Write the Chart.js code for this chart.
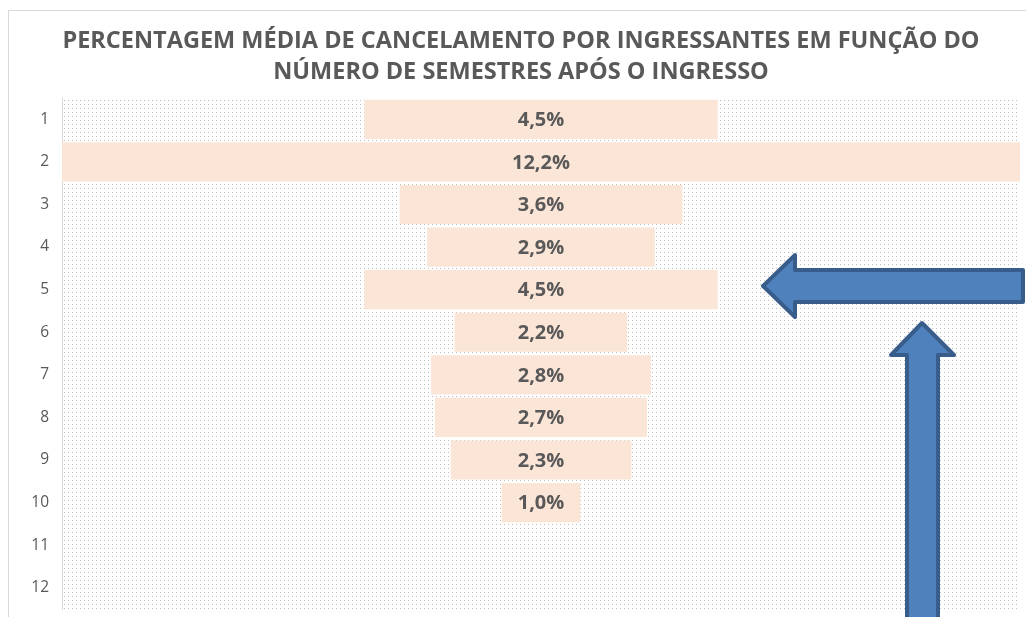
<!DOCTYPE html>
<html>
<head>
<meta charset="utf-8">
<script src="https://cdn.jsdelivr.net/npm/chart.js@4"></script>
<style>
  html, body { margin: 0; padding: 0; background: #fff; overflow: hidden; }
  #wrap { position: relative; width: 1026px; height: 617px; }
  #frame { position: absolute; left: 8px; top: 10px; width: 1040px; height: 640px; border: 1px solid #d9d9d9; }
  #chart { position: absolute; left: 0; top: 0; }
  #arrows { position: absolute; left: 0; top: 0; pointer-events: none; }
</style>
</head>
<body>
<div id="wrap">
  <div id="frame"></div>
  <canvas id="chart" width="1026" height="617"></canvas>
  <svg id="arrows" width="1026" height="617">
    <polygon points="1023,270 795,270 795,255 763,286 795,317 795,302 1023,302"
             fill="#4f81bd" stroke="#385d8a" stroke-width="4" stroke-linejoin="round"/>
    <polygon points="922,323 954,355 938,355 938,640 907,640 907,355 891,355"
             fill="#4f81bd" stroke="#385d8a" stroke-width="4" stroke-linejoin="round"/>
  </svg>
</div>
<script>
// semestres após o ingresso
const semesters = ['1', '2', '3', '4', '5', '6', '7', '8', '9', '10', '11', '12'];
// % média de cancelamento (11 e 12 sem dados)
const cancelRate = [4.5, 12.2, 3.6, 2.9, 4.5, 2.2, 2.8, 2.7, 2.3, 1.0, null, null];

const maxRate = Math.max(...cancelRate.filter(v => v != null));
const textGray = '#595959';

// dotted fill for the plot area
function dotPattern(ctx) {
    const tile = document.createElement('canvas');
    tile.width = 4; tile.height = 4;
    const t = tile.getContext('2d');
    t.fillStyle = '#bcbcbc';
    t.fillRect(0, 0, 1, 1);
    return ctx.createPattern(tile, 'repeat');
}

const plotBackground = {
    id: 'plotBackground',
    beforeDatasetsDraw(chart) {
        const { ctx, chartArea: a } = chart;
        ctx.save();
        ctx.fillStyle = dotPattern(ctx);
        ctx.fillRect(a.left, a.top, a.right - a.left, a.bottom - a.top);
        ctx.restore();
    }
};

// value labels in the middle of each bar
const barLabels = {
    id: 'barLabels',
    afterDatasetsDraw(chart) {
        const { ctx } = chart;
        const meta = chart.getDatasetMeta(0);
        const cx = chart.scales.x.getPixelForValue(0);
        ctx.save();
        ctx.font = 'bold 20px "Open Sans"';
        ctx.fillStyle = textGray;
        ctx.textAlign = 'center';
        ctx.textBaseline = 'middle';
        meta.data.forEach((bar, i) => {
            const v = cancelRate[i];
            if (v == null) return;
            ctx.fillText(v.toFixed(1).replace('.', ',') + '%', cx, bar.y + 1);
        });
        ctx.restore();
    }
};

new Chart(document.getElementById('chart'), {
    type: 'bar',
    data: {
        labels: semesters,
        datasets: [{
            data: cancelRate.map(v => v == null ? null : [-v / 2, v / 2]),
            backgroundColor: '#fbe5d6',
            borderWidth: 0,
            barPercentage: 0.92,
            categoryPercentage: 1.0
        }]
    },
    options: {
        indexAxis: 'y',
        responsive: false,
        animation: false,
        layout: { padding: { left: 22, right: 6, top: 0, bottom: 8 } },
        plugins: {
            legend: { display: false },
            tooltip: { enabled: false },
            title: {
                display: true,
                text: ['PERCENTAGEM MÉDIA DE CANCELAMENTO POR INGRESSANTES EM FUNÇÃO DO',
                       'NÚMERO DE SEMESTRES APÓS O INGRESSO'],
                color: textGray,
                font: { family: '"Open Sans"', size: 23.5, weight: 'bold', lineHeight: 1.32 },
                padding: { top: 26, bottom: 10 }
            }
        },
        scales: {
            x: {
                display: false,
                min: -maxRate / 2,
                max: maxRate / 2
            },
            y: {
                grid: { display: false, drawTicks: false },
                border: { display: true, color: '#d9d9d9', width: 1 },
                ticks: {
                    color: textGray,
                    font: { family: '"Open Sans"', size: 15.5 },
                    padding: 13
                },
                afterFit(scale) {
                    scale.width = 40;
                    scale.paddingTop = 0;
                    scale.paddingBottom = 0;
                }
            }
        }
    },
    plugins: [plotBackground, barLabels]
});
</script>
</body>
</html>
